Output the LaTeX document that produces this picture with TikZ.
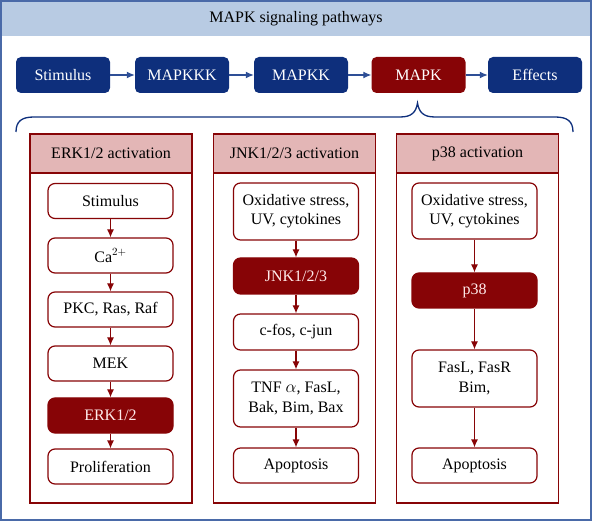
\documentclass[tikz,border=0pt]{standalone}
\usepackage{fontspec}
\setmainfont{Liberation Serif}
\usetikzlibrary{arrows.meta}
\definecolor{frameblue}{HTML}{4A6AA8}
\definecolor{bandblue}{HTML}{B8CBE3}
\definecolor{boxblue}{HTML}{0E2F7C}
\definecolor{boxred}{HTML}{870406}
\definecolor{headpink}{HTML}{E3B6B6}
\definecolor{arrowblue}{HTML}{2E4F96}
\begin{document}
\begin{tikzpicture}[x=1pt,y=-1pt,
  every node/.style={font=\fontsize{16}{19.3}\selectfont, align=center, inner sep=0pt},
  topbox/.style={rounded corners=5pt, fill=boxblue, text=white, minimum width=94, minimum height=36},
  topred/.style={topbox, fill=boxred},
  wbox/.style={rounded corners=7pt, draw=boxred, line width=1.2pt, fill=white, minimum width=125, minimum height=35},
  rbox/.style={wbox, fill=boxred, text=white!92!red},
  panel/.style={draw=boxred, line width=1.2pt, minimum width=162, minimum height=369},
  head/.style={draw=boxred, line width=1.2pt, fill=headpink, minimum width=162, minimum height=39},
  barrow/.style={draw=arrowblue, line width=1.2pt, -{Latex[length=8pt,width=7pt]}},
  rarrow/.style={draw=boxred, line width=1.2pt, -{Latex[length=8pt,width=7pt]}}
]
\useasboundingbox (0,0) rectangle (592,521);
% frame and title band
\fill[bandblue] (1,1) rectangle (591,36);
\draw[frameblue, line width=2pt] (1,1) rectangle (591,520);
\node (title) at (296,18.5) {MAPK signaling pathways};
% top row
\node[topbox] (s) at (63,75) {Stimulus};
\node[topbox] (k3) at (182,75) {MAPKKK};
\node[topbox] (k2) at (301,75) {MAPKK};
\node[topred] (k1) at (418.5,75) {MAPK};
\node[topbox] (ef) at (535,75) {Effects};
\draw[barrow] (s) -- (k3);
\draw[barrow] (k3) -- (k2);
\draw[barrow] (k2) -- (k1);
\draw[barrow] (k1) -- (ef);
% brace
\draw[boxblue, line width=1.3pt] (16,132) .. controls (16,121) and (22,117) .. (34,117) -- (400,117)
  .. controls (412,117) and (416,112) .. (417.5,103) .. controls (419,112) and (423,117) .. (435,117)
  -- (555,117) .. controls (567,117) and (573,121) .. (573,132);
% panels
\node[panel] (p1) at (111,318.5) {};
\node[panel] (p2) at (294.5,318.5) {};
\node[panel] (p3) at (477.5,318.5) {};
\node[head] (h1) at (111,153.5) {ERK1/2 activation};
\node[head] (h2) at (294.5,153.5) {JNK1/2/3 activation};
\node[head] (h3) at (477.5,153.5) {p38 activation};
% ERK column
\node[wbox] (e1) at (110.5,201) {Stimulus};
\node[wbox] (e2) at (110.5,255.5) {Ca$^{2+}$};
\node[wbox] (e3) at (110.5,309.5) {PKC, Ras, Raf};
\node[wbox] (e4) at (110.5,363.5) {MEK};
\node[rbox] (e5) at (110.5,415.5) {ERK1/2};
\node[wbox] (e6) at (110.5,466.5) {Proliferation};
\foreach \a/\b in {e1/e2,e2/e3,e3/e4,e4/e5,e5/e6} \draw[rarrow] (\a) -- (\b);
% JNK column
\node[wbox, minimum height=57] (j1) at (296,211.5) {Oxidative stress,\\UV, cytokines};
\node[rbox, minimum height=36] (j2) at (296,276) {JNK1/2/3};
\node[wbox, minimum height=36] (j3) at (296,332) {c-fos, c-jun};
\node[wbox, minimum height=57] (j4) at (296,398.5) {TNF $\alpha$, FasL,\\Bak, Bim, Bax};
\node[wbox] (j5) at (296,465.5) {Apoptosis};
\foreach \a/\b in {j1/j2,j2/j3,j3/j4,j4/j5} \draw[rarrow] (\a) -- (\b);
% p38 column
\node[wbox, minimum height=56] (q1) at (474.5,211) {Oxidative stress,\\UV, cytokines};
\node[rbox] (q2) at (474.5,290.5) {p38};
\node[wbox, minimum height=57] (q3) at (474.5,378.5) {FasL, FasR\\Bim,};
\node[wbox] (q4) at (474.5,465.5) {Apoptosis};
\foreach \a/\b in {q1/q2,q2/q3,q3/q4} \draw[rarrow] (\a) -- (\b);
\end{tikzpicture}
\end{document}
